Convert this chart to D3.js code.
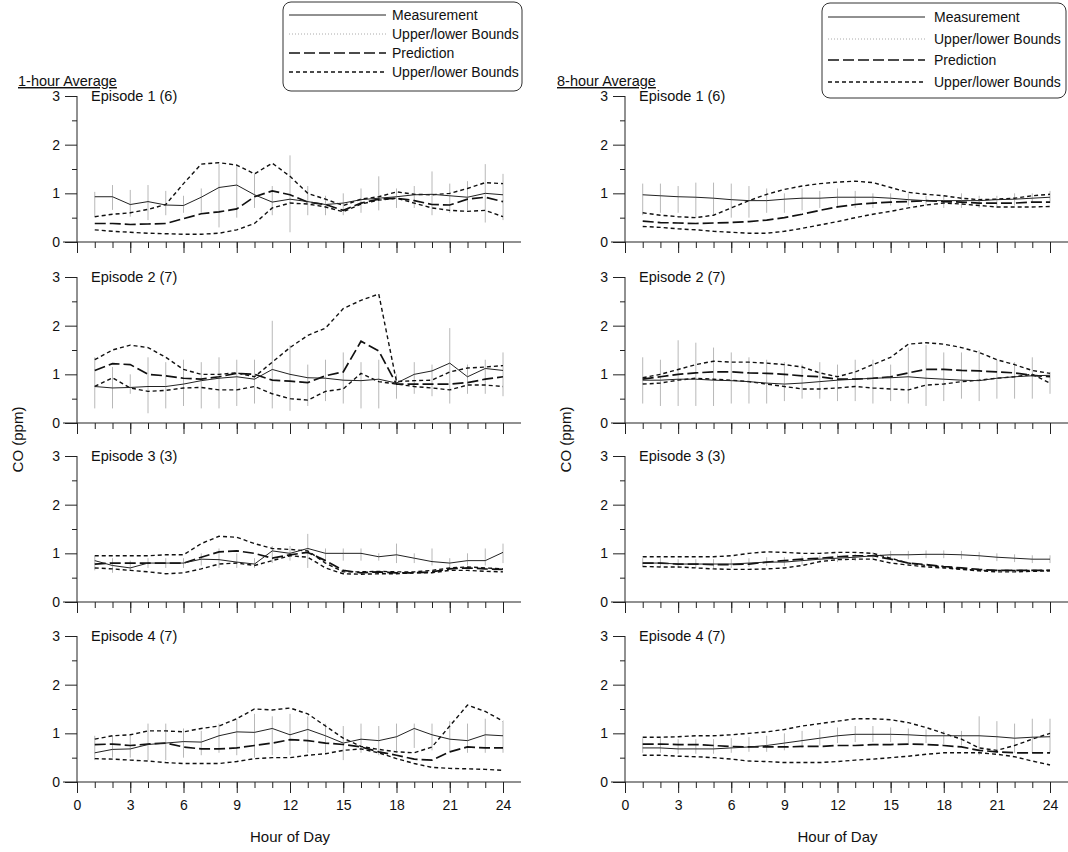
<!DOCTYPE html>
<html>
<head>
<meta charset="utf-8">
<script src="https://cdn.jsdelivr.net/npm/d3@7"></script>
<style>
  body { margin: 0; background: #fff; }
  svg { display: block; }
  text { font-family: "Liberation Sans", Arial, sans-serif; fill: #111; }
</style>
</head>
<body>
<div class="chart"></div>
<script>
const WIDTH = 1068;
const HEIGHT = 852;

const HOURS = [1, 2, 3, 4, 5, 6, 7, 8, 9, 10, 11, 12, 13, 14, 15, 16, 17, 18, 19, 20, 21, 22, 23, 24];
const X_TICKS = [0, 3, 6, 9, 12, 15, 18, 21, 24];
const Y_TICKS = [0, 1, 2, 3];
const Y_MINOR = [0.5, 1.5, 2.5];
const EPISODES = ['Episode 1 (6)', 'Episode 2 (7)', 'Episode 3 (3)', 'Episode 4 (7)'];
const TITLES = ['1-hour Average', '8-hour Average'];
const LEGEND_LABELS = ['Measurement', 'Upper/lower Bounds', 'Prediction', 'Upper/lower Bounds'];

// ---- 1-hour average ----
const h1Meas = [0.93, 0.93, 0.77, 0.83, 0.76, 0.75, 0.92, 1.12, 1.17, 0.97, 0.82, 0.88, 0.83, 0.77, 0.8, 0.87, 0.9, 0.93, 0.97, 0.98, 0.95, 0.92, 1.0, 0.97];
const h1Pred = [0.38, 0.38, 0.36, 0.37, 0.38, 0.48, 0.58, 0.62, 0.68, 0.93, 1.05, 0.97, 0.82, 0.77, 0.65, 0.8, 0.88, 0.9, 0.85, 0.77, 0.76, 0.88, 0.92, 0.83];
const h1Up = [0.52, 0.57, 0.6, 0.67, 0.77, 1.2, 1.6, 1.63, 1.58, 1.4, 1.62, 1.35, 1.0, 0.88, 0.75, 0.88, 0.93, 1.03, 0.98, 0.97, 1.0, 1.1, 1.22, 1.2];
const h1Lo = [0.25, 0.22, 0.2, 0.18, 0.17, 0.16, 0.16, 0.18, 0.25, 0.38, 0.7, 0.8, 0.78, 0.72, 0.62, 0.78, 0.86, 0.9, 0.8, 0.7, 0.65, 0.63, 0.65, 0.52];
const h1BarLo = [0.52, 0.66, 0.52, 0.45, 0.55, 0.6, 0.6, 0.3, 0.5, 0.7, 0.55, 0.2, 0.55, 0.55, 0.55, 0.6, 0.65, 0.7, 0.7, 0.55, 0.6, 0.65, 0.4, 0.45];
const h1BarHi = [1.03, 1.17, 1.07, 1.17, 1.05, 0.95, 1.1, 1.6, 1.6, 1.4, 1.15, 1.78, 1.15, 0.95, 1.0, 1.1, 1.35, 1.1, 1.15, 1.45, 1.2, 1.25, 1.6, 1.4];

const h2Meas = [0.75, 0.72, 0.73, 0.75, 0.75, 0.8, 0.87, 0.92, 0.95, 0.9, 1.1, 1.0, 0.93, 0.92, 0.88, 0.87, 0.9, 0.82, 1.0, 1.07, 1.23, 0.95, 1.12, 1.08];
const h2Pred = [1.08, 1.22, 1.2, 1.0, 0.97, 0.92, 0.9, 0.95, 1.02, 1.0, 0.88, 0.86, 0.83, 0.97, 1.05, 1.68, 1.48, 0.8, 0.8, 0.8, 0.8, 0.83, 0.9, 0.95];
const h2Up = [1.3, 1.5, 1.6, 1.55, 1.35, 1.1, 1.0, 1.0, 1.03, 0.95, 1.25, 1.55, 1.8, 1.95, 2.35, 2.52, 2.65, 0.85, 0.87, 0.88, 1.05, 1.13, 1.15, 1.18];
const h2Lo = [0.75, 0.93, 0.72, 0.65, 0.67, 0.72, 0.73, 0.68, 0.68, 0.75, 0.6, 0.5, 0.47, 0.65, 0.7, 1.02, 0.85, 0.8, 0.75, 0.72, 0.68, 0.78, 0.78, 0.75];
const h2BarLo = [0.3, 0.3, 0.6, 0.2, 0.3, 0.35, 0.3, 0.3, 0.35, 0.4, 0.3, 0.25, 0.35, 0.45, 0.4, 0.3, 0.3, 0.5, 0.6, 0.55, 0.4, 0.6, 0.6, 0.55];
const h2BarHi = [1.35, 1.15, 1.0, 1.35, 1.25, 1.3, 1.25, 1.35, 1.3, 1.3, 2.1, 1.6, 1.2, 1.3, 1.45, 1.25, 1.3, 1.0, 1.25, 1.2, 1.95, 1.2, 1.3, 1.45];

const h3Meas = [0.85, 0.75, 0.7, 0.8, 0.8, 0.8, 0.88, 0.87, 0.82, 0.78, 1.05, 1.0, 1.1, 1.0, 1.0, 1.0, 0.93, 0.97, 0.9, 0.83, 0.8, 0.85, 0.85, 1.02];
const h3Pred = [0.78, 0.8, 0.8, 0.8, 0.8, 0.8, 0.92, 1.03, 1.05, 1.0, 0.9, 0.97, 1.02, 0.85, 0.65, 0.6, 0.62, 0.6, 0.6, 0.62, 0.68, 0.7, 0.68, 0.67];
const h3Up = [0.95, 0.95, 0.95, 0.95, 0.97, 0.97, 1.2, 1.35, 1.33, 1.2, 1.1, 1.08, 1.05, 0.8, 0.62, 0.62, 0.63, 0.62, 0.62, 0.65, 0.7, 0.72, 0.7, 0.68];
const h3Lo = [0.7, 0.68, 0.65, 0.62, 0.58, 0.6, 0.68, 0.78, 0.8, 0.75, 0.85, 0.95, 0.92, 0.7, 0.58, 0.57, 0.58, 0.58, 0.6, 0.6, 0.65, 0.65, 0.63, 0.62];
const h3BarLo = [0.65, 0.6, 0.65, 0.7, 0.7, 0.7, 0.75, 0.7, 0.7, 0.7, 0.8, 0.85, 0.7, 0.85, 0.85, 0.85, 0.85, 0.8, 0.8, 0.75, 0.7, 0.75, 0.75, 0.8];
const h3BarHi = [0.95, 0.9, 0.85, 0.9, 0.9, 0.9, 1.0, 1.1, 1.0, 0.9, 1.15, 1.15, 1.4, 1.1, 1.1, 1.1, 1.0, 1.2, 1.0, 1.1, 0.9, 1.0, 1.1, 1.2];

const h4Meas = [0.6, 0.67, 0.68, 0.77, 0.8, 0.83, 0.82, 0.95, 1.03, 1.02, 1.1, 0.97, 1.08, 0.95, 0.8, 0.88, 0.85, 0.93, 1.1, 0.97, 0.88, 0.85, 0.97, 0.95];
const h4Pred = [0.77, 0.78, 0.75, 0.78, 0.8, 0.72, 0.68, 0.68, 0.7, 0.75, 0.8, 0.87, 0.85, 0.8, 0.77, 0.72, 0.62, 0.55, 0.47, 0.45, 0.62, 0.72, 0.7, 0.7];
const h4Up = [0.88, 0.95, 0.97, 1.05, 1.05, 1.03, 1.1, 1.15, 1.3, 1.5, 1.48, 1.52, 1.4, 1.15, 0.9, 0.73, 0.67, 0.62, 0.6, 0.72, 1.15, 1.58, 1.45, 1.25];
const h4Lo = [0.48, 0.47, 0.45, 0.43, 0.4, 0.38, 0.38, 0.38, 0.42, 0.48, 0.5, 0.5, 0.55, 0.58, 0.65, 0.68, 0.6, 0.48, 0.38, 0.3, 0.28, 0.27, 0.26, 0.24];
const h4BarLo = [0.45, 0.5, 0.5, 0.45, 0.45, 0.5, 0.55, 0.6, 0.55, 0.5, 0.55, 0.55, 0.6, 0.6, 0.45, 0.6, 0.55, 0.6, 0.7, 0.65, 0.6, 0.6, 0.6, 0.6];
const h4BarHi = [0.95, 0.95, 0.95, 1.2, 1.2, 1.1, 1.05, 1.2, 1.3, 1.4, 1.35, 1.4, 1.35, 1.2, 1.15, 1.2, 1.15, 1.2, 1.2, 1.2, 1.25, 1.2, 1.3, 1.25];

// ---- 8-hour average ----
const e1Meas = [0.97, 0.95, 0.93, 0.92, 0.9, 0.87, 0.85, 0.85, 0.88, 0.9, 0.9, 0.92, 0.92, 0.92, 0.9, 0.87, 0.85, 0.85, 0.85, 0.85, 0.87, 0.88, 0.9, 0.92];
const e1Pred = [0.43, 0.4, 0.39, 0.38, 0.39, 0.4, 0.42, 0.45, 0.5, 0.57, 0.65, 0.72, 0.77, 0.8, 0.82, 0.83, 0.85, 0.83, 0.82, 0.8, 0.8, 0.8, 0.82, 0.82];
const e1Up = [0.6, 0.55, 0.52, 0.5, 0.55, 0.7, 0.85, 0.98, 1.08, 1.15, 1.2, 1.23, 1.25, 1.22, 1.12, 1.02, 0.98, 0.95, 0.9, 0.87, 0.88, 0.9, 0.95, 0.98];
const e1Lo = [0.32, 0.3, 0.27, 0.25, 0.22, 0.2, 0.18, 0.18, 0.22, 0.28, 0.35, 0.42, 0.5, 0.57, 0.63, 0.7, 0.76, 0.8, 0.78, 0.75, 0.72, 0.72, 0.72, 0.73];
const e1BarLo = [0.55, 0.6, 0.6, 0.5, 0.55, 0.5, 0.5, 0.6, 0.6, 0.65, 0.7, 0.7, 0.7, 0.7, 0.75, 0.75, 0.75, 0.7, 0.7, 0.7, 0.7, 0.75, 0.8, 0.8];
const e1BarHi = [1.2, 1.2, 1.15, 1.22, 1.22, 1.2, 1.15, 1.1, 1.0, 1.1, 1.05, 1.1, 1.05, 1.0, 1.0, 1.0, 0.95, 0.95, 1.0, 0.95, 0.95, 1.0, 1.0, 1.05];

const e2Meas = [0.88, 0.88, 0.9, 0.9, 0.88, 0.87, 0.85, 0.82, 0.8, 0.82, 0.85, 0.88, 0.9, 0.92, 0.93, 0.95, 0.92, 0.9, 0.88, 0.87, 0.92, 0.95, 0.97, 0.98];
const e2Pred = [0.9, 0.95, 1.0, 1.03, 1.05, 1.05, 1.03, 1.02, 1.0, 0.97, 0.95, 0.9, 0.9, 0.92, 0.95, 1.03, 1.1, 1.1, 1.08, 1.07, 1.05, 1.03, 0.98, 0.95];
const e2Up = [0.93, 1.0, 1.1, 1.2, 1.27, 1.25, 1.25, 1.23, 1.2, 1.15, 1.03, 0.95, 1.05, 1.2, 1.35, 1.62, 1.65, 1.62, 1.55, 1.45, 1.3, 1.2, 1.08, 1.02];
const e2Lo = [0.8, 0.82, 0.88, 0.92, 0.9, 0.88, 0.85, 0.8, 0.75, 0.7, 0.7, 0.72, 0.75, 0.72, 0.7, 0.68, 0.78, 0.8, 0.85, 0.88, 0.92, 0.95, 1.0, 0.82];
const e2BarLo = [0.4, 0.35, 0.35, 0.35, 0.35, 0.4, 0.4, 0.4, 0.45, 0.5, 0.5, 0.45, 0.45, 0.4, 0.45, 0.4, 0.35, 0.45, 0.5, 0.45, 0.5, 0.5, 0.5, 0.6];
const e2BarHi = [1.35, 1.3, 1.7, 1.65, 1.55, 1.45, 1.35, 1.3, 1.25, 1.2, 1.25, 1.2, 1.3, 1.3, 1.2, 1.55, 1.6, 1.45, 1.45, 1.5, 1.3, 1.25, 1.35, 1.05];

const e3Meas = [0.8, 0.8, 0.78, 0.78, 0.78, 0.78, 0.8, 0.82, 0.82, 0.85, 0.88, 0.9, 0.92, 0.95, 0.97, 0.97, 0.98, 0.98, 0.97, 0.95, 0.92, 0.9, 0.88, 0.88];
const e3Pred = [0.8, 0.8, 0.78, 0.78, 0.77, 0.77, 0.78, 0.82, 0.85, 0.88, 0.9, 0.93, 0.95, 0.95, 0.88, 0.8, 0.77, 0.73, 0.7, 0.67, 0.65, 0.65, 0.65, 0.65];
const e3Up = [0.93, 0.93, 0.93, 0.93, 0.93, 0.95, 1.0, 1.03, 1.02, 1.0, 1.0, 1.02, 1.02, 1.0, 0.9, 0.8, 0.75, 0.72, 0.68, 0.65, 0.65, 0.65, 0.65, 0.65];
const e3Lo = [0.73, 0.72, 0.72, 0.7, 0.68, 0.67, 0.67, 0.68, 0.7, 0.75, 0.83, 0.87, 0.88, 0.88, 0.8, 0.76, 0.72, 0.7, 0.67, 0.64, 0.62, 0.62, 0.63, 0.64];
const e3BarLo = [0.72, 0.72, 0.7, 0.7, 0.7, 0.7, 0.72, 0.74, 0.74, 0.76, 0.8, 0.82, 0.84, 0.86, 0.88, 0.88, 0.9, 0.9, 0.88, 0.86, 0.84, 0.82, 0.8, 0.8];
const e3BarHi = [0.9, 0.9, 0.88, 0.88, 0.88, 0.88, 0.9, 0.92, 0.92, 0.94, 0.96, 0.98, 1.0, 1.02, 1.05, 1.05, 1.06, 1.06, 1.05, 1.03, 1.0, 0.98, 0.96, 0.96];

const e4Meas = [0.7, 0.7, 0.68, 0.68, 0.68, 0.7, 0.72, 0.75, 0.8, 0.85, 0.9, 0.95, 0.98, 0.98, 0.98, 0.97, 0.95, 0.95, 0.95, 0.95, 0.93, 0.9, 0.92, 0.93];
const e4Pred = [0.78, 0.78, 0.77, 0.77, 0.75, 0.73, 0.72, 0.72, 0.72, 0.73, 0.73, 0.75, 0.75, 0.77, 0.77, 0.78, 0.77, 0.75, 0.72, 0.65, 0.62, 0.6, 0.6, 0.6];
const e4Up = [0.92, 0.92, 0.93, 0.95, 0.95, 0.97, 1.0, 1.03, 1.08, 1.15, 1.2, 1.25, 1.3, 1.3, 1.28, 1.22, 1.12, 1.0, 0.88, 0.7, 0.65, 0.75, 0.88, 1.0];
const e4Lo = [0.55, 0.55, 0.53, 0.52, 0.5, 0.47, 0.43, 0.42, 0.4, 0.4, 0.4, 0.42, 0.45, 0.47, 0.5, 0.53, 0.57, 0.6, 0.6, 0.6, 0.57, 0.52, 0.43, 0.35];
const e4BarLo = [0.6, 0.6, 0.58, 0.58, 0.58, 0.6, 0.62, 0.62, 0.65, 0.7, 0.75, 0.8, 0.82, 0.82, 0.82, 0.8, 0.8, 0.78, 0.75, 0.55, 0.6, 0.6, 0.6, 0.6];
const e4BarHi = [0.9, 0.9, 0.88, 0.88, 0.88, 0.9, 0.92, 0.95, 1.0, 1.05, 1.08, 1.12, 1.15, 1.15, 1.12, 1.1, 1.08, 1.05, 1.05, 1.35, 1.25, 1.2, 1.3, 1.3];

const panels = [
  { col: 0, row: 0, meas: h1Meas, pred: h1Pred, up: h1Up, lo: h1Lo, barLo: h1BarLo, barHi: h1BarHi },
  { col: 0, row: 1, meas: h2Meas, pred: h2Pred, up: h2Up, lo: h2Lo, barLo: h2BarLo, barHi: h2BarHi },
  { col: 0, row: 2, meas: h3Meas, pred: h3Pred, up: h3Up, lo: h3Lo, barLo: h3BarLo, barHi: h3BarHi },
  { col: 0, row: 3, meas: h4Meas, pred: h4Pred, up: h4Up, lo: h4Lo, barLo: h4BarLo, barHi: h4BarHi },
  { col: 1, row: 0, meas: e1Meas, pred: e1Pred, up: e1Up, lo: e1Lo, barLo: e1BarLo, barHi: e1BarHi },
  { col: 1, row: 1, meas: e2Meas, pred: e2Pred, up: e2Up, lo: e2Lo, barLo: e2BarLo, barHi: e2BarHi },
  { col: 1, row: 2, meas: e3Meas, pred: e3Pred, up: e3Up, lo: e3Lo, barLo: e3BarLo, barHi: e3BarHi },
  { col: 1, row: 3, meas: e4Meas, pred: e4Pred, up: e4Up, lo: e4Lo, barLo: e4BarLo, barHi: e4BarHi },
];

// layout
const COL_X = [[77, 503], [625, 1050]]; // pixel range of hour 0..24
const AXIS_END = [521, 1068];
const ROW_TOP = [96, 277, 456, 636];
const ROW_H = 146;

const PRED_DASH = '11,4';
const BOUND_DASH = '4,3';
const BAR_DASH = '1,2';

const svg = d3.select('.chart').append('svg')
  .attr('width', WIDTH)
  .attr('height', HEIGHT);

function drawPanel(p) {
  const x = d3.scaleLinear().domain([0, 24]).range(COL_X[p.col]);
  const y = d3.scaleLinear().domain([0, 3]).range([ROW_TOP[p.row] + ROW_H, ROW_TOP[p.row]]);
  const g = svg.append('g');
  const bottom = p.row === 3;

  // x axis: minor every hour, major every 3 hours
  g.append('g')
    .attr('transform', `translate(0,${y(0)})`)
    .call(d3.axisBottom(x).tickValues(HOURS).tickSize(6).tickFormat(''))
    .call((a) => a.select('.domain').remove());
  const xMajor = g.append('g')
    .attr('transform', `translate(0,${y(0)})`)
    .call(d3.axisBottom(x).tickValues(X_TICKS).tickSize(11).tickPadding(7)
      .tickFormat(bottom ? d3.format('d') : ''));
  xMajor.select('.domain').remove();
  xMajor.selectAll('text').style('font-size', '14px').style('font-family', '"Liberation Sans", Arial, sans-serif');
  g.append('line')
    .attr('x1', x(0) - 14).attr('x2', AXIS_END[p.col])
    .attr('y1', y(0)).attr('y2', y(0))
    .attr('stroke', '#222');

  // y axis
  g.append('g')
    .attr('transform', `translate(${x(0)},0)`)
    .call(d3.axisLeft(y).tickValues(Y_MINOR).tickSize(5).tickFormat(''))
    .call((a) => a.select('.domain').remove());
  const yMajor = g.append('g')
    .attr('transform', `translate(${x(0)},0)`)
    .call(d3.axisLeft(y).tickValues(Y_TICKS).tickSize(12).tickPadding(5).tickFormat(d3.format('d')));
  yMajor.select('.domain').attr('d', `M0,${y(0)}V${y(3)}`);
  yMajor.selectAll('text').style('font-size', '14px').style('font-family', '"Liberation Sans", Arial, sans-serif');

  g.selectAll('.tick line').attr('stroke', '#222');
  g.selectAll('.domain').attr('stroke', '#222');

  // measurement bounds bars
  g.selectAll('.bar').data(HOURS).enter().append('line')
    .attr('x1', (d) => x(d)).attr('x2', (d) => x(d))
    .attr('y1', (d, i) => y(p.barLo[i]))
    .attr('y2', (d, i) => y(p.barHi[i]))
    .attr('stroke', '#b8b8b8')
    .attr('stroke-width', 1);

  const line = d3.line().x((d, i) => x(HOURS[i])).y((d) => y(d));

  g.append('path').attr('d', line(p.up))
    .attr('fill', 'none').attr('stroke', '#111').attr('stroke-width', 1.4).attr('stroke-dasharray', BOUND_DASH);
  g.append('path').attr('d', line(p.lo))
    .attr('fill', 'none').attr('stroke', '#111').attr('stroke-width', 1.4).attr('stroke-dasharray', BOUND_DASH);
  g.append('path').attr('d', line(p.pred))
    .attr('fill', 'none').attr('stroke', '#111').attr('stroke-width', 1.7).attr('stroke-dasharray', PRED_DASH);
  g.append('path').attr('d', line(p.meas))
    .attr('fill', 'none').attr('stroke', '#222').attr('stroke-width', 1);

  // episode label
  g.append('text')
    .attr('x', x(0) + 14)
    .attr('y', y(3) + 5)
    .style('font-size', '14.5px')
    .text(EPISODES[p.row]);

  if (bottom) {
    g.append('text')
      .attr('x', x(12)).attr('y', y(0) + 60)
      .attr('text-anchor', 'middle')
      .style('font-size', '15px')
      .text('Hour of Day');
  }
}

panels.forEach(drawPanel);

// column titles and y labels
const TITLE_DX = [-59, -68];
[0, 1].forEach((c) => {
  const x = d3.scaleLinear().domain([0, 24]).range(COL_X[c]);
  svg.append('text')
    .attr('x', x(0) + TITLE_DX[c])
    .attr('y', 86)
    .style('font-size', '14.5px')
    .style('text-decoration', 'underline')
    .text(TITLES[c]);
  svg.append('text')
    .attr('transform', `translate(${x(0) - 54},${(ROW_TOP[1] + ROW_TOP[2] + ROW_H) / 2}) rotate(-90)`)
    .attr('text-anchor', 'middle')
    .style('font-size', '15px')
    .text('CO (ppm)');
});

// legends
const LEGENDS = [
  { x: 283, y: 2, w: 239, h: 89, rows: [15, 34, 53, 72], lineX: [289, 386], textX: 392 },
  { x: 822, y: 3, w: 244, h: 95, rows: [17, 39, 60, 82], lineX: [828, 925], textX: 934 },
];
const LEGEND_STYLES = [
  { stroke: '#222', width: 1, dash: null },
  { stroke: '#aaa', width: 1, dash: BAR_DASH },
  { stroke: '#111', width: 1.7, dash: PRED_DASH },
  { stroke: '#111', width: 1.4, dash: BOUND_DASH },
];
LEGENDS.forEach((L) => {
  const lg = svg.append('g');
  lg.append('rect')
    .attr('x', L.x).attr('y', L.y).attr('width', L.w).attr('height', L.h)
    .attr('rx', 8)
    .attr('fill', '#fff').attr('stroke', '#333').attr('stroke-width', 1);
  LEGEND_LABELS.forEach((label, i) => {
    const s = LEGEND_STYLES[i];
    lg.append('line')
      .attr('x1', L.lineX[0]).attr('x2', L.lineX[1])
      .attr('y1', L.rows[i]).attr('y2', L.rows[i])
      .attr('stroke', s.stroke).attr('stroke-width', s.width)
      .attr('stroke-dasharray', s.dash);
    lg.append('text')
      .attr('x', L.textX).attr('y', L.rows[i] + 5)
      .style('font-size', '14px')
      .text(label);
  });
});
</script>
</body>
</html>
